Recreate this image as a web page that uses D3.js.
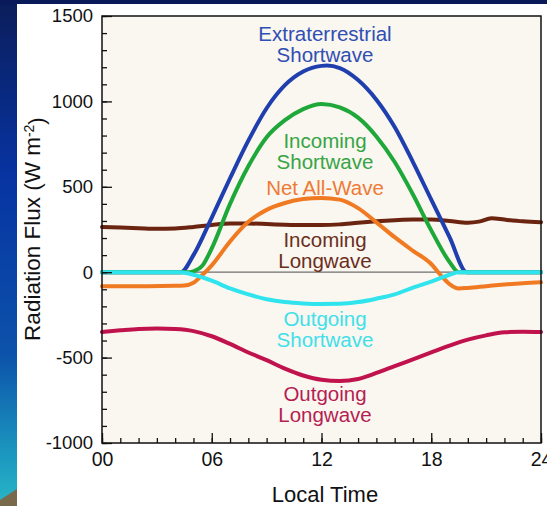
<!DOCTYPE html>
<html lang="en">
<head>
<meta charset="UTF-8">
<title>Radiation Flux</title>
<script src="https://d3js.org/d3.v7.min.js"></script>
<style>
    body { margin: 0; overflow: hidden; background: #0a1f5e; }
    svg { display: block; font-family: "Liberation Sans", Arial, Helvetica, sans-serif; }
</style>
</head>
<body>
<div id="chart"></div>
<script>
    // hours of day / flux values (W m-2)
    const extraterrestrial = [[0,0],[2,0],[4,0],[4.3,0],[5,100],[6,320],[7,550],[8,770],[9,960],[10,1095],[11,1175],[12,1208],[12.3,1210],[13,1195],[14,1125],[15,1010],[16,850],[17,645],[18,425],[19,205],[19.95,0],[22,0],[24,0]];
    const incomingSW = [[0,0],[2,0],[4.8,0],[5,5],[5.5,40],[6,140],[7,400],[8,620],[9,790],[10,890],[11,955],[12,985],[13,965],[14,905],[15,795],[16,645],[17,455],[18,245],[19,60],[19.5,0],[22,0],[24,0]];
    const netAllWave = [[0,-82],[2,-82],[4,-80],[4.5,-78],[5,-62],[5.5,-15],[6,40],[7,180],[8,295],[9,365],[10,405],[11,428],[12,435],[13,425],[14,375],[15,292],[16,205],[17,125],[18,48],[18.5,-15],[19,-70],[19.5,-95],[20,-92],[21,-82],[22,-72],[23,-64],[24,-59]];
    const incomingLW = [[0,265],[1,262],[2,258],[3,254],[4,256],[5,265],[6,277],[7,285],[8,285],[9,282],[10,278],[11,276],[12,276],[13,280],[14,290],[15,298],[16,304],[17,308],[18,308],[19,300],[20,290],[20.6,296],[21.3,316],[22,308],[23,298],[24,293]];
    const outgoingSW = [[0,0],[2,0],[4.3,0],[5,-15],[6,-50],[7,-95],[8,-130],[9,-158],[10,-175],[11,-183],[12,-186],[13,-185],[14,-175],[15,-155],[16,-130],[17,-90],[18,-55],[19,-15],[19.5,0],[22,0],[24,0]];
    const outgoingLW = [[0,-350],[1,-340],[2,-332],[3,-330],[4,-333],[5,-345],[6,-375],[7,-420],[8,-470],[9,-515],[10,-565],[11,-605],[12,-630],[13,-637],[14,-625],[15,-590],[16,-550],[17,-510],[18,-470],[19,-430],[20,-395],[21,-370],[22,-352],[23,-348],[24,-350]];

    const xTickLabels = ["00", "06", "12", "18", "24"];

    const series = [
        { data: incomingLW, color: "#6b2410" },
        { data: outgoingLW, color: "#c0134e" },
        { data: extraterrestrial, color: "#1f3fae" },
        { data: incomingSW, color: "#1fa83a" },
        { data: netAllWave, color: "#f07a22" },
        { data: outgoingSW, color: "#30e4ee" }
    ];

    const labels = [
        { lines: ["Extraterrestrial", "Shortwave"], y: 41, color: "#2f4fb2" },
        { lines: ["Incoming", "Shortwave"], y: 148, color: "#35a545" },
        { lines: ["Net All-Wave"], y: 195, color: "#ee7a36" },
        { lines: ["Incoming", "Longwave"], y: 247, color: "#6a2e1c" },
        { lines: ["Outgoing", "Shortwave"], y: 326, color: "#3ee0ea" },
        { lines: ["Outgoing", "Longwave"], y: 401, color: "#b51e52" }
    ];

    const W = 547, H = 506;
    const svg = d3.select("#chart").append("svg").attr("width", W).attr("height", H);

    // slide background
    const defs = svg.append("defs");
    const grad = defs.append("linearGradient").attr("id", "bg").attr("x1", 0).attr("y1", 0).attr("x2", 0).attr("y2", 1);
    grad.append("stop").attr("offset", "0%").attr("stop-color", "#0b1d5a");
    grad.append("stop").attr("offset", "35%").attr("stop-color", "#0734a2");
    grad.append("stop").attr("offset", "70%").attr("stop-color", "#0c52aa");
    grad.append("stop").attr("offset", "90%").attr("stop-color", "#1c98bf");
    grad.append("stop").attr("offset", "100%").attr("stop-color", "#28b6c8");
    svg.append("rect").attr("width", W).attr("height", H).attr("fill", "url(#bg)");
    svg.append("rect").attr("width", W).attr("height", 5).attr("fill", "#081a58");
    svg.append("path").attr("d", "M0,506L0,500L17,489L17,506Z").attr("fill", "#7a6a4c");
    svg.append("rect").attr("x", 17).attr("y", 4).attr("width", W - 17).attr("height", H - 4).attr("fill", "#ffffff");

    const x = d3.scaleLinear().domain([0, 24]).range([102, 541]);
    const y = d3.scaleLinear().domain([-1000, 1500]).range([443, 16]);

    svg.append("rect")
        .attr("x", x(0)).attr("y", y(1500))
        .attr("width", x(24) - x(0)).attr("height", y(-1000) - y(1500))
        .attr("fill", "#faf6f0");

    // zero line
    svg.append("line")
        .attr("x1", x(0)).attr("x2", x(24))
        .attr("y1", y(0)).attr("y2", y(0))
        .attr("stroke", "#6e6e6e").attr("stroke-width", 1.2);

    const line = d3.line()
        .x(d => x(d[0]))
        .y(d => y(d[1]))
        .curve(d3.curveMonotoneX);

    svg.append("g").selectAll("path")
        .data(series)
        .enter()
        .append("path")
        .attr("d", d => line(d.data))
        .attr("fill", "none")
        .attr("stroke", d => d.color)
        .attr("stroke-width", 4)
        .attr("stroke-linejoin", "round")
        .attr("stroke-linecap", "round");

    // series labels
    const lab = svg.append("g")
        .attr("text-anchor", "middle")
        .style("font-size", "20.5px");
    labels.forEach(l => {
        l.lines.forEach((t, i) => {
            lab.append("text")
                .attr("x", 325)
                .attr("y", l.y + i * 21)
                .attr("fill", l.color)
                .text(t);
        });
    });

    // axes, ticks pointing inwards
    const yMinor = svg.append("g").attr("transform", `translate(${x(0)},0)`)
        .call(d3.axisLeft(y).tickValues(d3.range(-1000, 1501, 100)).tickSize(-5).tickFormat(""));
    const yMajor = svg.append("g").attr("transform", `translate(${x(0)},0)`)
        .call(d3.axisLeft(y).tickValues(d3.range(-1000, 1501, 500)).tickSize(-10).tickPadding(9)
            .tickFormat(d => String(d)));
    const xMinor = svg.append("g").attr("transform", `translate(0,${y(-1000)})`)
        .call(d3.axisBottom(x).tickValues(d3.range(0, 25, 1)).tickSize(-5).tickFormat(""));
    const xMajor = svg.append("g").attr("transform", `translate(0,${y(-1000)})`)
        .call(d3.axisBottom(x).tickValues(d3.range(0, 25, 6)).tickSize(-10).tickPadding(9)
            .tickFormat((d, i) => xTickLabels[i]));

    [yMinor, yMajor, xMinor, xMajor].forEach(g => {
        g.select(".domain").remove();
        g.selectAll("line").attr("stroke", "#111").attr("stroke-width", 1.3);
    });
    yMajor.selectAll("text").style("font-size", "18.5px").attr("fill", "#111").style("font-family", "inherit");
    xMajor.selectAll("text").style("font-size", "19.5px").attr("fill", "#111").style("font-family", "inherit");

    // frame
    svg.append("rect")
        .attr("x", x(0)).attr("y", y(1500))
        .attr("width", x(24) - x(0)).attr("height", y(-1000) - y(1500))
        .attr("fill", "none").attr("stroke", "#111").attr("stroke-width", 1.5);

    // axis titles
    svg.append("text")
        .attr("x", 325).attr("y", 502)
        .attr("text-anchor", "middle")
        .style("font-size", "22px").attr("fill", "#111")
        .text("Local Time");

    const yt = svg.append("text")
        .attr("transform", "translate(40,229) rotate(-90)")
        .attr("text-anchor", "middle")
        .style("font-size", "22.5px").attr("fill", "#111");
    yt.append("tspan").text("Radiation Flux (W m");
    yt.append("tspan").attr("dy", "-0.45em").style("font-size", "14px").text("-2");
    yt.append("tspan").attr("dy", "0.45em").text(")");
</script>
</body>
</html>
